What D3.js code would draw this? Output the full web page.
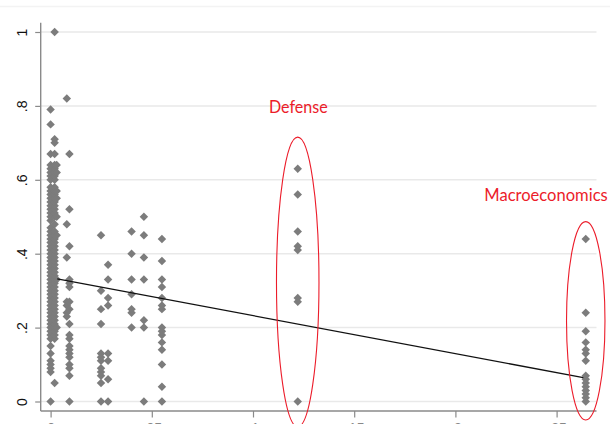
<!DOCTYPE html>
<html>
<head>
<meta charset="utf-8">
<script src="https://cdn.jsdelivr.net/npm/d3@7"></script>
<style>
  html, body { margin: 0; padding: 0; background: #fff; }
  svg { display: block; }
</style>
</head>
<body>
<svg id="chart" width="610" height="424"></svg>
<script>
// ---- data ----
const yTicks = [0, 0.2, 0.4, 0.6, 0.8, 1];
const yTickLabels = ["0", ".2", ".4", ".6", ".8", "1"];
const xTicks = [0, 0.05, 0.1, 0.15, 0.2, 0.25];
const xTickLabels = ["0", ".05", ".1", ".15", ".2", ".25"];

const clusterX = [0, 0.002, 0.003, 0.008, 0.0093, 0.0249, 0.0284, 0.040, 0.0461, 0.055, 0.1221, 0.2644];
const clusterY = [
  [0, 0.08, 0.09, 0.10, 0.11, 0.13, 0.15, 0.17, 0.18, 0.19, 0.20, 0.21, 0.22, 0.23, 0.24, 0.25, 0.26, 0.27, 0.28, 0.29, 0.30, 0.31, 0.32, 0.33, 0.34, 0.35, 0.36, 0.37, 0.38, 0.39, 0.40, 0.41, 0.42, 0.43, 0.44, 0.45, 0.46, 0.47, 0.49, 0.50, 0.51, 0.52, 0.53, 0.54, 0.55, 0.56, 0.57, 0.58, 0.60, 0.61, 0.62, 0.63, 0.64, 0.67, 0.75, 0.79],
  [0.05, 0.17, 0.18, 0.19, 0.20, 0.21, 0.22, 0.23, 0.24, 0.25, 0.26, 0.27, 0.28, 0.29, 0.30, 0.31, 0.32, 0.33, 0.34, 0.35, 0.36, 0.37, 0.38, 0.39, 0.40, 0.41, 0.42, 0.43, 0.44, 0.45, 0.46, 0.48, 0.50, 0.51, 0.52, 0.53, 0.54, 0.55, 0.56, 0.57, 0.58, 0.60, 0.61, 0.62, 0.63, 0.64, 0.67, 0.70, 0.71, 1.0],
  [0.20, 0.33, 0.45, 0.50, 0.55, 0.57, 0.62, 0.64],
  [0.82, 0.48, 0.39, 0.27, 0.26, 0.24, 0.23],
  [0, 0.07, 0.09, 0.10, 0.12, 0.13, 0.14, 0.15, 0.17, 0.18, 0.21, 0.25, 0.27, 0.31, 0.32, 0.33, 0.42, 0.52, 0.67],
  [0, 0.05, 0.07, 0.08, 0.09, 0.11, 0.12, 0.13, 0.21, 0.25, 0.30, 0.45],
  [0, 0.06, 0.11, 0.13, 0.26, 0.28, 0.33, 0.37],
  [0.20, 0.24, 0.25, 0.29, 0.33, 0.40, 0.46],
  [0, 0.20, 0.22, 0.33, 0.39, 0.45, 0.50],
  [0, 0.04, 0.10, 0.14, 0.16, 0.18, 0.19, 0.20, 0.25, 0.26, 0.28, 0.31, 0.33, 0.38, 0.44],
  [0, 0.27, 0.28, 0.41, 0.42, 0.46, 0.56, 0.63],
  [0, 0.01, 0.02, 0.03, 0.04, 0.05, 0.06, 0.07, 0.11, 0.13, 0.14, 0.16, 0.19, 0.24, 0.44]
];

// fitted line end points
const fitX = [0.0033, 0.2632];
const fitY = [0.332, 0.0645];

// annotations (data coordinates)
const annoNames = ["Defense", "Macroeconomics"];
const annoCx = [0.1221, 0.2644];
const annoCy = [0.3234, 0.2184];
const annoRx = [0.0105, 0.0095];
const annoRy = [0.392, 0.2685];
const annoLabelX = [0.1079, 0.2143];
const annoLabelY = [0.7816, 0.5434];
const annoLabelW = [58.7, 123.4];

// ---- drawing ----
const svg = d3.select("#chart");
const x = d3.scaleLinear().domain([0, 0.25]).range([50.6, 556.6]);
const y = d3.scaleLinear().domain([0, 1]).range([401.5, 32]);

const axisX0 = 40.7, axisY0 = 411, plotRight = 596.5, axisTop = 22.7;

// faint top border line
svg.append("line").attr("x1", 0).attr("x2", 610).attr("y1", 6.5).attr("y2", 6.5)
  .attr("stroke", "#f3f3f3").attr("stroke-width", 1.5);

// grid
svg.append("g").selectAll("line").data(yTicks).join("line")
  .attr("x1", axisX0).attr("x2", plotRight)
  .attr("y1", d => y(d)).attr("y2", d => y(d))
  .attr("stroke", "#e9e9e9").attr("stroke-width", 1.5);

// y axis
const yAxis = d3.axisLeft(y).tickValues(yTicks).tickSize(5.5)
  .tickFormat((d, i) => yTickLabels[i]);
const gy = svg.append("g").attr("transform", `translate(${axisX0},0)`).call(yAxis);
gy.select(".domain").remove();
gy.selectAll(".tick line").attr("stroke", "#8a8a8a").attr("stroke-width", 1.2);
gy.selectAll(".tick text").remove();
gy.selectAll(".tick").append("text")
  .attr("transform", "translate(-13.3,0) rotate(-90)")
  .attr("text-anchor", "middle")
  .attr("fill", "#111")
  .style("font-family", "'Liberation Sans', Arial, sans-serif")
  .style("font-size", "14px")
  .text((d, i) => yTickLabels[i]);
svg.append("line").attr("x1", axisX0).attr("x2", axisX0).attr("y1", axisTop).attr("y2", axisY0)
  .attr("stroke", "#8a8a8a").attr("stroke-width", 1.4);

// x axis
const xAxis = d3.axisBottom(x).tickValues(xTicks).tickSize(6.5)
  .tickFormat((d, i) => xTickLabels[i]);
const gx = svg.append("g").attr("transform", `translate(0,${axisY0})`).call(xAxis);
gx.select(".domain").remove();
gx.selectAll(".tick line").attr("stroke", "#8a8a8a").attr("stroke-width", 1.2);
gx.selectAll(".tick text").remove();
gx.selectAll(".tick").append("text")
  .attr("y", 21.7)
  .attr("text-anchor", "middle")
  .attr("fill", "#888")
  .style("font-family", "'Liberation Sans', Arial, sans-serif")
  .style("font-size", "14px")
  .text((d, i) => xTickLabels[i]);
svg.append("line").attr("x1", axisX0).attr("x2", plotRight).attr("y1", axisY0).attr("y2", axisY0)
  .attr("stroke", "#8a8a8a").attr("stroke-width", 1.4);

// points
const pts = [];
clusterX.forEach((cx, i) => clusterY[i].forEach(v => pts.push({ x: cx, y: v })));
const sym = d3.symbol().type(d3.symbolSquare).size(36);
svg.append("g").selectAll("path").data(pts).join("path")
  .attr("d", sym)
  .attr("transform", d => `translate(${x(d.x)},${y(d.y)}) rotate(45)`)
  .attr("fill", "#7c7c7c");

// fitted line
const line = d3.line().x(d => x(d[0])).y(d => y(d[1]));
svg.append("path").datum(fitX.map((v, i) => [v, fitY[i]]))
  .attr("d", line).attr("fill", "none").attr("stroke", "#111").attr("stroke-width", 1.3);

// annotations
const red = "#ec1c2a";
annoNames.forEach((name, i) => {
  const cx = x(annoCx[i]), cy = y(annoCy[i]);
  const rx = x(annoCx[i] + annoRx[i]) - cx;
  const ry = y(0) - y(annoRy[i]);
  svg.append("ellipse").attr("cx", cx).attr("cy", cy).attr("rx", rx).attr("ry", ry)
    .attr("fill", "none").attr("stroke", red).attr("stroke-width", 1.1);
  svg.append("text")
    .attr("x", x(annoLabelX[i])).attr("y", y(annoLabelY[i]))
    .attr("fill", red)
    .attr("textLength", annoLabelW[i]).attr("lengthAdjust", "spacingAndGlyphs")
    .style("font-family", "Lato, 'Open Sans', sans-serif")
    .style("font-size", "16.5px")
    .text(name);
});
</script>
</body>
</html>
